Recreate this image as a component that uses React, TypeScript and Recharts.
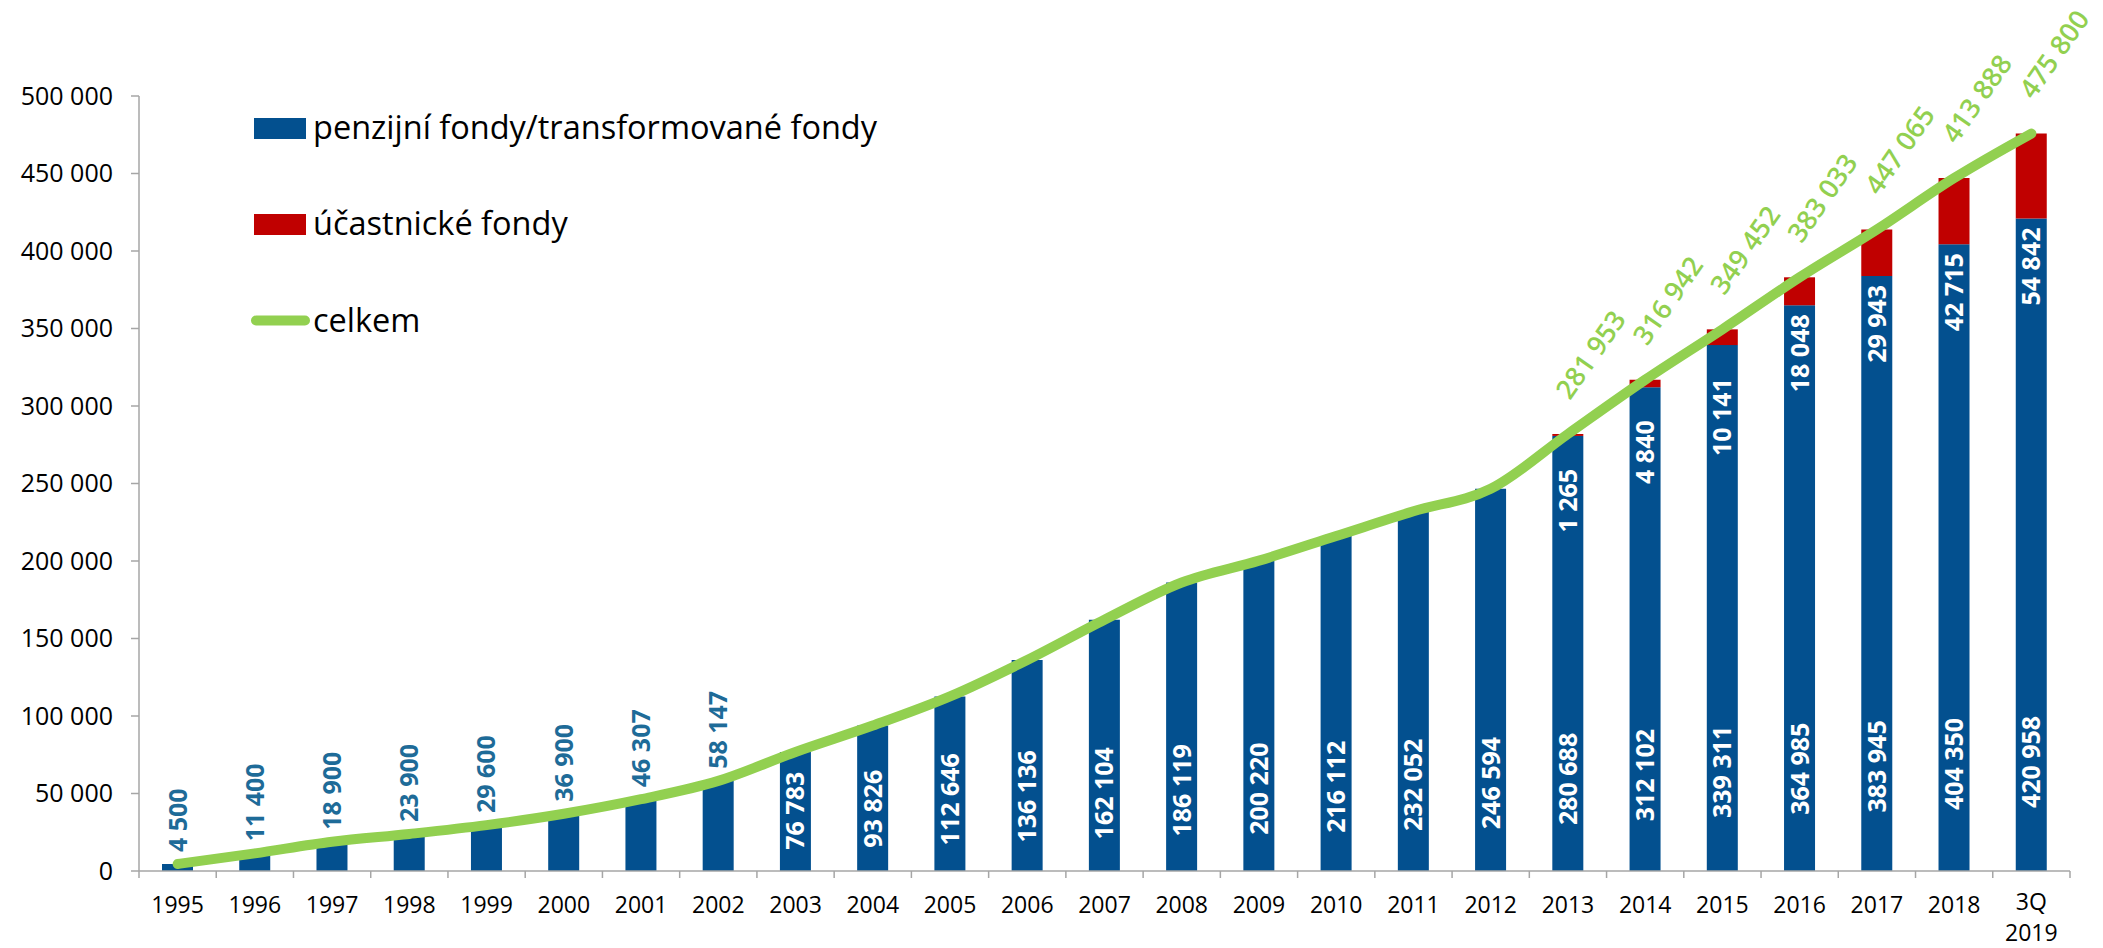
import React from 'react';
import { ComposedChart, Bar, Line, XAxis, YAxis, Legend, LabelList } from 'recharts';

const categories = ['1995', '1996', '1997', '1998', '1999', '2000', '2001', '2002', '2003', '2004', '2005', '2006', '2007', '2008', '2009', '2010', '2011', '2012', '2013', '2014', '2015', '2016', '2017', '2018', '3Q 2019'];
const penzijniFondy = [4500, 11400, 18900, 23900, 29600, 36900, 46307, 58147, 76783, 93826, 112646, 136136, 162104, 186119, 200220, 216112, 232052, 246594, 280688, 312102, 339311, 364985, 383945, 404350, 420958];
const ucastnickeFondy = [null, null, null, null, null, null, null, null, null, null, null, null, null, null, null, null, null, null, 1265, 4840, 10141, 18048, 29943, 42715, 54842];
const celkem = [4500, 11400, 18900, 23900, 29600, 36900, 46307, 58147, 76783, 93826, 112646, 136136, 162104, 186119, 200220, 216112, 232052, 246594, 281953, 316942, 349452, 383033, 413888, 447065, 475800];
const celkemLabels = ['', '', '', '', '', '', '', '', '', '', '', '', '', '', '', '', '', '', '281 953', '316 942', '349 452', '383 033', '447 065', '413 888', '475 800'];
const yTicks = [0, 50000, 100000, 150000, 200000, 250000, 300000, 350000, 400000, 450000, 500000];

const legendLabels = ['penzijní fondy/transformované fondy', 'účastnické fondy', 'celkem'];

const BLUE = '#03508F';
const RED = '#C00000';
const GREEN = '#92D050';
const TEAL = '#1E6B98';
const AXIS = '#A6A6A6';
const FONT = '"Open Sans", "Noto Sans", sans-serif';

const W = 2103;
const H = 948;
const MARGIN = { top: 96, right: 33, bottom: 0, left: 9 };
const Y_AXIS_W = 130;
const BAND = (W - MARGIN.left - MARGIN.right - Y_AXIS_W) / categories.length;

const fmt = (v: number) => String(v).replace(/\B(?=(\d{3})+(?!\d))/g, ' ');

const data = categories.map((c, i) => ({
  year: c,
  penzijni: penzijniFondy[i],
  ucastnicke: ucastnickeFondy[i],
  celkem: celkem[i],
  celkemLabel: celkemLabels[i],
}));

const box = (p: any) => {
  const vb = p.viewBox || {};
  return {
    x: Number(p.x ?? vb.x),
    y: Number(p.y ?? vb.y),
    width: Number(p.width ?? vb.width),
    height: Number(p.height ?? vb.height),
  };
};

const BlueLabel = (p: any) => {
  if (p.value == null) return null;
  const { x, y, width, height } = box(p);
  const cx = x + width / 2;
  const text = fmt(p.value);
  const fits = height > 105;
  if (fits) {
    const by = y + height - (12 + 0.078 * height);
    return (
      <text transform={`translate(${cx},${by}) rotate(-90)`} dy="0.36em" textAnchor="start"
        fontFamily={FONT} fontWeight={700} fontSize={25} fill="#FFFFFF">{text}</text>
    );
  }
  const by = y - 12;
  return (
    <text transform={`translate(${cx},${by}) rotate(-90)`} dy="0.36em" textAnchor="start"
      fontFamily={FONT} fontWeight={700} fontSize={25} fill={TEAL}>{text}</text>
  );
};

const RedLabel = (p: any) => {
  if (p.value == null || p.value === 0) return null;
  const { x, y, width, height } = box(p);
  const cx = x + width / 2;
  const off = height < 20 ? 33 : 9;
  const ty = y + height + off;
  return (
    <text transform={`translate(${cx},${ty}) rotate(-90)`} dy="0.36em" textAnchor="end"
      fontFamily={FONT} fontWeight={700} fontSize={25} fill="#FFFFFF">{fmt(p.value)}</text>
  );
};

const TotalLabel = (p: any) => {
  if (!p.value) return null;
  const { x, y } = box(p);
  return (
    <text transform={`translate(${x + 2},${y - 33}) rotate(-55)`} textAnchor="start"
      fontFamily={FONT} fontWeight={600} fontSize={27} fill={GREEN}>{p.value}</text>
  );
};

const XTick = (p: any) => {
  const { x, y, payload } = p;
  const lines = String(payload.value).split(' ');
  const half = BAND / 2;
  const isLast = payload.value === categories[categories.length - 1];
  const multi = lines.length > 1;
  return (
    <g>
      <line x1={x - half} y1={y} x2={x - half} y2={y + 7} stroke={AXIS} strokeWidth={1.5} />
      {isLast && <line x1={x + half} y1={y} x2={x + half} y2={y + 7} stroke={AXIS} strokeWidth={1.5} />}
      {lines.map((l, i) => (
        <text key={i} x={x} y={y + 26} dy={multi ? (i === 0 ? '0.58em' : '1.91em') : '0.71em'}
          textAnchor="middle" fontFamily={FONT} fontSize={23} fill="#000">{l}</text>
      ))}
    </g>
  );
};

const LEG_LEFT = 240;
const LEG_TOP = 100;

const LegendContent = () => (
  <svg width={700} height={260} style={{ display: 'block' }}>
    <g transform={`translate(${-LEG_LEFT},${-LEG_TOP})`}>
      <rect x={254} y={118} width={52} height={21} fill={BLUE} />
      <text x={313} y={139} fontFamily={FONT} fontSize={32.5} fill="#000">{legendLabels[0]}</text>
      <rect x={254} y={214} width={52} height={21} fill={RED} />
      <text x={313} y={235} fontFamily={FONT} fontSize={32.5} fill="#000">{legendLabels[1]}</text>
      <line x1={256} y1={320.5} x2={305} y2={320.5} stroke={GREEN} strokeWidth={10} strokeLinecap="round" />
      <text x={313} y={332} fontFamily={FONT} fontSize={32.5} fill="#000">{legendLabels[2]}</text>
    </g>
  </svg>
);

export default function App() {
  return (
    <div style={{ position: 'absolute', left: 0, top: 0, width: W, height: H, background: '#fff' }}>
      <ComposedChart width={W} height={H} data={data} margin={MARGIN}>
        <XAxis dataKey="year" height={77} interval={0} tickLine={false} tickSize={0} tickMargin={0}
          axisLine={{ stroke: AXIS, strokeWidth: 1.5 }} tick={<XTick />} />
        <YAxis width={Y_AXIS_W} domain={[0, 500000]} ticks={yTicks} interval={0} tickFormatter={fmt}
          tickSize={8} tickMargin={18} allowDataOverflow
          axisLine={{ stroke: AXIS, strokeWidth: 1.5 }} tickLine={{ stroke: AXIS, strokeWidth: 1.5 }}
          tick={{ fontFamily: FONT, fontSize: 25, fill: '#000' }} />
        <Legend layout="vertical" align="center" verticalAlign="middle"
          wrapperStyle={{ left: LEG_LEFT, top: LEG_TOP, width: 700, height: 260 }}
          content={() => <LegendContent />} />
        <Bar dataKey="penzijni" name={legendLabels[0]} stackId="a" fill={BLUE} barSize={31} isAnimationActive={false}>
          <LabelList dataKey="penzijni" content={BlueLabel} />
        </Bar>
        <Bar dataKey="ucastnicke" name={legendLabels[1]} stackId="a" fill={RED} barSize={31} isAnimationActive={false}>
          <LabelList dataKey="ucastnicke" content={RedLabel} />
        </Bar>
        <Line type="monotone" dataKey="celkem" name={legendLabels[2]} stroke={GREEN} strokeWidth={10}
          strokeLinecap="round" strokeLinejoin="round" dot={false} activeDot={false} isAnimationActive={false}>
          <LabelList dataKey="celkemLabel" content={TotalLabel} />
        </Line>
      </ComposedChart>
    </div>
  );
}
